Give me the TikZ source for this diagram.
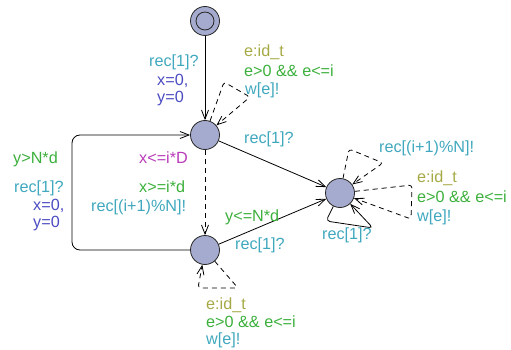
\documentclass[tikz,border=0pt]{standalone}
\usepackage{fontspec}
\setmainfont{Liberation Sans}
\usetikzlibrary{arrows.meta}

\begin{document}
\begin{tikzpicture}[x=1pt, y=-1pt,
				every node/.style={inner sep=0pt},
				loc/.style={circle, draw=black!85, fill=locfill, line width=0.8pt, minimum size=29pt},
				start/.style={loc, path picture={\draw[line width=0.8pt, black!85] (path picture bounding box.center) circle (9pt);}},
				lbl/.style={anchor=base west, font=\fontsize{16.2}{18}\selectfont},
				syn/.style={lbl, text=syncol},
				upd/.style={lbl, text=updcol},
				grd/.style={lbl, text=grdcol},
				sel/.style={lbl, text=selcol},
				inv/.style={lbl, text=invcol},
				arrow/.style={-{Straight Barb[length=9pt,width=7pt]}, line width=0.8pt},
				dashline/.style={dash pattern=on 5pt off 4pt}]

					\definecolor{locfill}{RGB}{165,171,206}
					\definecolor{syncol}{RGB}{64,168,190}
					\definecolor{updcol}{RGB}{76,76,194}
					\definecolor{grdcol}{RGB}{60,176,60}
					\definecolor{selcol}{RGB}{166,170,70}
					\definecolor{invcol}{RGB}{186,60,186}

					\useasboundingbox (0,0) rectangle (511,350);

					\node[start] (init) at (205,21) {};
					\node[loc] (A) at (205,135) {};
					\node[loc] (B) at (205,250) {};
					\node[loc] (C) at (340,193) {};

					\coordinate (bl) at (72,250);
					\coordinate (tl) at (72,135);
					\coordinate (a1) at (224,82);
					\coordinate (a2) at (250,97);
					\coordinate (b1) at (238,288);
					\coordinate (b2) at (198,288);
					\coordinate (c1) at (349,149);
					\coordinate (c2) at (383,163);
					\coordinate (c3) at (412,185);
					\coordinate (c4) at (411,219);
					\coordinate (c5) at (326,221);
					\coordinate (c6) at (373,228);

					\draw (init) edge [arrow] (A);
					\draw (A) edge [arrow] (C);
					\draw (B) edge [arrow] (C);
					\draw (A) edge [arrow, dashline] (B);
					\draw [arrow, rounded corners=8pt] (B) -- (bl) -- (tl) -- (A);
					\draw [arrow, dashline, rounded corners=3pt] (A) -- (a1) -- (a2) -- (A);
					\draw [arrow, dashline, rounded corners=3pt] (B) -- (b1) -- (b2) -- (B);
					\draw [arrow, dashline, rounded corners=3pt] (C) -- (c1) -- (c2) -- (C);
					\draw [arrow, dashline, rounded corners=3pt] (C) -- (c3) -- (c4) -- (C);
					\draw [arrow, rounded corners=4pt] (C) -- (c5) -- (c6) -- (C);

					\node[syn] (initsync) at (149,67) {rec[1]?};
					\node[upd] (initupd1) at (157,86) {x=0,};
					\node[upd] (initupd2) at (157,103) {y=0};

					\node[sel] (aloopsel) at (244,57) {e:id\_t};
					\node[grd] (aloopgrd) at (244,77) {e>0 \&\& e<=i};
					\node[syn] (aloopsync) at (245,95) {w[e]!};

					\node[syn] (acsync) at (244,143) {rec[1]?};
					\node[inv] (ainv) at (139,163) {x<=i*D};
					\node[grd] (abgrd) at (139,192) {x>=i*d};
					\node[syn] (absync) at (91,211) {rec[(i+1)\%N]!};

					\node[grd] (bagrd) at (13,163) {y>N*d};
					\node[syn] (basync) at (14,192) {rec[1]?};
					\node[upd] (baupd1) at (33,210) {x=0,};
					\node[upd] (baupd2) at (33,227) {y=0};

					\node[grd] (bcgrd) at (225,221) {y<=N*d};
					\node[syn] (bcsync) at (235,249) {rec[1]?};

					\node[sel] (bloopsel) at (206,309) {e:id\_t};
					\node[grd] (bloopgrd) at (206,327) {e>0 \&\& e<=i};
					\node[syn] (bloopsync) at (206,344) {w[e]!};

					\node[syn] (ctopsync) at (379,153) {rec[(i+1)\%N]!};
					\node[sel] (crightsel) at (417,182) {e:id\_t};
					\node[grd] (crightgrd) at (417,202) {e>0 \&\& e<=i};
					\node[syn] (crightsync) at (417,221) {w[e]!};
					\node[syn] (cbotsync) at (322,239) {rec[1]?};
				\end{tikzpicture}
\end{document}
